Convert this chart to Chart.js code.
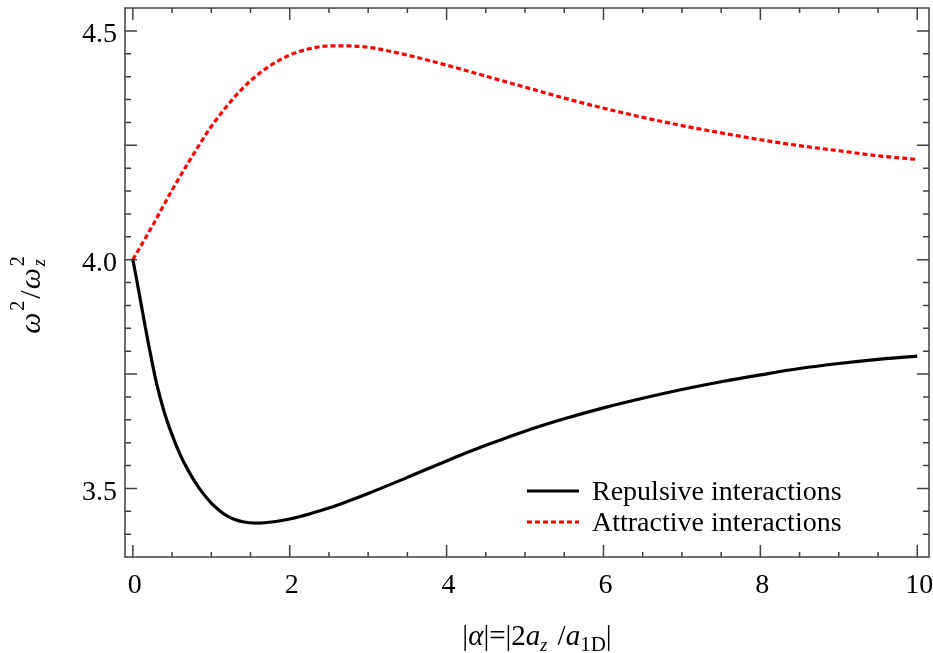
<!DOCTYPE html>
<html>
<head>
<meta charset="utf-8">
<script src="https://cdn.jsdelivr.net/npm/chart.js@4.4.1/dist/chart.umd.min.js"></script>
<style>
  html, body { margin: 0; padding: 0; background: #fff; }
  #wrap { width: 933px; height: 653px; }
</style>
</head>
<body>
<div id="wrap"><canvas id="mainChart" width="933" height="653"></canvas></div>
<script>
// values
const repulsiveX = [0, 0.05, 0.1, 0.15, 0.2, 0.25, 0.3, 0.4, 0.5, 0.6, 0.7, 0.8, 0.9, 1.0, 1.2, 1.4, 1.6, 1.8, 2.0, 2.25, 2.5, 3.0, 3.5, 4.0, 4.5, 5.0, 5.5, 6.0, 6.5, 7.0, 7.5, 8.0, 8.5, 9.0, 9.5, 10];
const repulsiveY = [4.0, 3.955, 3.908, 3.861, 3.815, 3.772, 3.731, 3.667, 3.617, 3.575, 3.541, 3.512, 3.488, 3.468, 3.440, 3.427, 3.424, 3.427, 3.433, 3.444, 3.457, 3.489, 3.524, 3.560, 3.594, 3.625, 3.652, 3.676, 3.697, 3.716, 3.733, 3.748, 3.762, 3.773, 3.782, 3.789];

const attractiveX = [0, 0.25, 0.5, 0.75, 1.0, 1.25, 1.5, 1.75, 2.0, 2.25, 2.5, 2.75, 3.0, 3.5, 4.0, 4.5, 5.0, 5.5, 6.0, 6.5, 7.0, 7.5, 8.0, 8.5, 9.0, 9.5, 10];
const attractiveY = [4.0, 4.074, 4.152, 4.224, 4.291, 4.346, 4.391, 4.424, 4.447, 4.461, 4.467, 4.467, 4.464, 4.447, 4.425, 4.401, 4.377, 4.353, 4.331, 4.311, 4.293, 4.277, 4.262, 4.249, 4.238, 4.227, 4.219];

const seriesLabels = ["Repulsive interactions", "Attractive interactions"];

const FONT = "'Liberation Serif', 'Times New Roman', serif";
const AXIS_COLOR = '#404040';

function toPoints(xs, ys) {
  return xs.map((x, i) => ({ x: x, y: ys[i] }));
}

// frame, inward ticks on all four sides, legend and axis titles
const decorations = {
  id: 'decorations',
  afterDraw(chart) {
    const ctx = chart.ctx;
    const area = chart.chartArea;
    const xs = chart.scales.x;
    const ys = chart.scales.y;

    ctx.save();
    ctx.strokeStyle = AXIS_COLOR;
    ctx.lineWidth = 1.5;
    ctx.strokeRect(area.left, area.top, area.right - area.left, area.bottom - area.top);

    ctx.beginPath();
    for (let k = 0; k <= 20; k++) {
      const v = k * 0.5;
      const px = xs.getPixelForValue(v);
      const len = (k % 4 === 0) ? 12 : 5;
      ctx.moveTo(px, area.bottom);
      ctx.lineTo(px, area.bottom - len);
      ctx.moveTo(px, area.top);
      ctx.lineTo(px, area.top + len);
    }
    for (let k = 68; k <= 90; k++) {
      const v = k * 0.05;
      const py = ys.getPixelForValue(v);
      const len = (k % 5 === 0) ? 12 : 6;
      ctx.moveTo(area.left, py);
      ctx.lineTo(area.left + len, py);
      ctx.moveTo(area.right, py);
      ctx.lineTo(area.right - len, py);
    }
    ctx.stroke();

    // legend
    chart.data.datasets.forEach((ds, i) => {
      const y = 491 + i * 31;
      ctx.beginPath();
      ctx.strokeStyle = ds.borderColor;
      ctx.lineWidth = ds.borderWidth;
      ctx.setLineDash(ds.borderDash || []);
      ctx.moveTo(527, y);
      ctx.lineTo(579, y);
      ctx.stroke();
      ctx.setLineDash([]);
      ctx.fillStyle = '#000';
      ctx.font = `28px ${FONT}`;
      ctx.textBaseline = 'middle';
      ctx.textAlign = 'left';
      ctx.fillText(ds.label, 592, y + 2);
    });

    // axis titles with sub/superscripts
    ctx.fillStyle = '#000';
    ctx.textBaseline = 'alphabetic';
    ctx.textAlign = 'left';

    function drawRuns(runs, startX, baseY) {
      let x = startX;
      runs.forEach(r => {
        ctx.font = r.font;
        ctx.fillText(r.t, x, baseY + (r.dy || 0));
        if (!r.noAdvance) x += ctx.measureText(r.t).width + (r.gap || 0);
      });
      return x;
    }
    function width(runs) {
      let w = 0;
      runs.forEach(r => {
        ctx.font = r.font;
        if (!r.noAdvance) w += ctx.measureText(r.t).width + (r.gap || 0);
      });
      return w;
    }

    const big = `29px ${FONT}`;
    const bigIt = `italic 29px ${FONT}`;
    const smallIt = `italic 18px ${FONT}`;

    const xTitle = [
      { t: '|', font: big },
      { t: 'α', font: bigIt },
      { t: '|=|2', font: big },
      { t: 'a', font: bigIt },
      { t: 'z', font: smallIt, dy: 6, gap: 3 },
      { t: ' /', font: big },
      { t: 'a', font: bigIt },
      { t: '1D', font: `21px ${FONT}`, dy: 6 },
      { t: '|', font: big }
    ];
    drawRuns(xTitle, 537 - width(xTitle) / 2, 645);

    const yBig = `30px ${FONT}`;
    const yBigIt = `italic 30px ${FONT}`;
    const ySmall = `20px ${FONT}`;
    const yTitle = [
      { t: 'ω', font: yBigIt, gap: 2 },
      { t: '2', font: ySmall, dy: -16, gap: 2 },
      { t: '/', font: yBig, gap: 1 },
      { t: 'ω', font: yBigIt, gap: 2 },
      { t: 'z', font: `italic 18px ${FONT}`, dy: 5, noAdvance: true },
      { t: '2', font: ySmall, dy: -16 }
    ];
    ctx.save();
    ctx.translate(40, 295);
    ctx.rotate(-Math.PI / 2);
    drawRuns(yTitle, -width(yTitle) / 2, 0);
    ctx.restore();

    ctx.restore();
  }
};

const canvas = document.getElementById('mainChart');
const chart = new Chart(canvas.getContext('2d'), {
  type: 'scatter',
  data: {
    datasets: [
      {
        label: seriesLabels[0],
        data: toPoints(repulsiveX, repulsiveY),
        showLine: true,
        borderColor: '#000000',
        borderWidth: 3.2,
        pointRadius: 0,
        cubicInterpolationMode: 'monotone'
      },
      {
        label: seriesLabels[1],
        data: toPoints(attractiveX, attractiveY),
        showLine: true,
        borderColor: '#ff0000',
        borderWidth: 3.2,
        borderDash: [5, 3],
        pointRadius: 0,
        cubicInterpolationMode: 'monotone'
      }
    ]
  },
  options: {
    responsive: false,
    animation: false,
    layout: { padding: { top: 8, right: 4, left: 0, bottom: 0 } },
    plugins: {
      legend: { display: false },
      tooltip: { enabled: false }
    },
    scales: {
      x: {
        type: 'linear',
        min: -0.1,
        max: 10.15,
        grid: { display: false, drawTicks: false },
        border: { display: false },
        ticks: {
          stepSize: 2,
          includeBounds: false,
          padding: 12,
          labelOffset: 2,
          color: '#000',
          font: { family: FONT, size: 28 },
          maxRotation: 0,
          callback: v => String(v)
        },
        afterFit: s => {
          s.height = 96;
          s.paddingLeft = 0;
          s.paddingRight = 0;
        }
      },
      y: {
        type: 'linear',
        min: 3.35,
        max: 4.55,
        grid: { display: false, drawTicks: false },
        border: { display: false },
        ticks: {
          stepSize: 0.5,
          includeBounds: false,
          padding: 8,
          labelOffset: 4,
          color: '#000',
          font: { family: FONT, size: 28 },
          callback: v => v.toFixed(1)
        },
        afterFit: s => {
          s.width = 125;
          s.paddingTop = 0;
          s.paddingBottom = 0;
        }
      }
    }
  },
  plugins: [decorations]
});
</script>
</body>
</html>
